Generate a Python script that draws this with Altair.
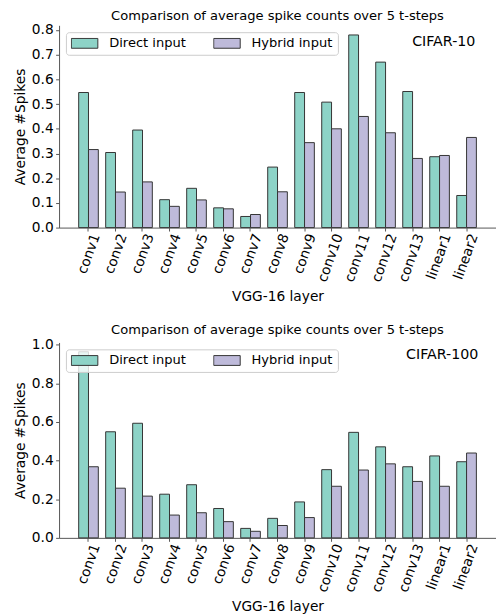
import altair as alt
import pandas as pd

layers = ["conv1", "conv2", "conv3", "conv4", "conv5", "conv6", "conv7", "conv8",
          "conv9", "conv10", "conv11", "conv12", "conv13", "linear1", "linear2"]
series = ["Direct input", "Hybrid input"]

c10_direct = [0.547, 0.304, 0.395, 0.113, 0.159, 0.080, 0.045, 0.245,
              0.547, 0.508, 0.780, 0.670, 0.551, 0.287, 0.130]
c10_hybrid = [0.316, 0.144, 0.185, 0.086, 0.112, 0.076, 0.053, 0.145,
              0.344, 0.400, 0.450, 0.384, 0.280, 0.292, 0.365]

c100_direct = [0.963, 0.549, 0.593, 0.226, 0.275, 0.152, 0.049, 0.101,
               0.186, 0.353, 0.546, 0.471, 0.368, 0.424, 0.394]
c100_hybrid = [0.368, 0.257, 0.216, 0.118, 0.130, 0.084, 0.034, 0.064,
               0.105, 0.267, 0.351, 0.383, 0.292, 0.267, 0.439]

title_text = "Comparison of average spike counts over 5 t-steps"
x_title = "VGG-16 layer"
y_title = "Average #Spikes"
colors = ["#8dd3c7", "#bebada"]

FONT = "DejaVu Sans"


def make_df(direct, hybrid):
    rows = []
    for i, l in enumerate(layers):
        rows.append({"layer": l, "type": series[0], "value": direct[i]})
        rows.append({"layer": l, "type": series[1], "value": hybrid[i]})
    return pd.DataFrame(rows)


def panel(direct, hybrid, ymax, yticks, label, label_x, label_y, height):
    df = make_df(direct, hybrid)
    bars = alt.Chart(df).mark_bar(stroke="#333333", strokeWidth=1).encode(
        x=alt.X("layer:N", sort=layers,
                scale=alt.Scale(paddingInner=0, paddingOuter=0.59),
                axis=alt.Axis(title=x_title, labelAngle=-70, labelAlign="right",
                              labelBaseline="middle", labelOffset=8, labelPadding=3,
                              tickSize=3.5, titlePadding=6)),
        xOffset=alt.XOffset("type:N", sort=series,
                            scale=alt.Scale(paddingInner=0, paddingOuter=0.375)),
        y=alt.Y("value:Q", scale=alt.Scale(domain=[0, ymax], nice=False, zero=True),
                axis=alt.Axis(title=y_title, values=yticks, format=".1f",
                              tickSize=3.5, labelPadding=2.5, titlePadding=4)),
        color=alt.Color("type:N", sort=series,
                        scale=alt.Scale(domain=series, range=colors),
                        legend=alt.Legend(
                            title=None, orient="none", legendX=7, legendY=7,
                            direction="horizontal",
                            symbolType="M-1,-0.37H1V0.37H-1Z", symbolSize=729,
                            symbolStrokeColor="#333333", symbolStrokeWidth=1,
                            symbolOpacity=1,
                            labelFontSize=13.3, labelFont=FONT, labelColor="black",
                            labelOffset=11, columnPadding=27, padding=5,
                            clipHeight=12,
                            fillColor="rgba(255,255,255,0.8)",
                            strokeColor="#cccccc", cornerRadius=3)),
    )
    tdf = pd.DataFrame({"t": [label]})
    txt = alt.Chart(tdf).mark_text(align="right", baseline="middle",
                                   fontSize=14.5, font=FONT, color="black").encode(
        text="t:N", x=alt.value(label_x), y=alt.value(label_y))
    return alt.layer(bars, txt).properties(
        width=445, height=height,
        title=alt.TitleParams(title_text, fontSize=13.3, font=FONT,
                              fontWeight="normal", offset=1, color="black"))


top = panel(c10_direct, c10_hybrid, 0.819,
            [0.0, 0.1, 0.2, 0.3, 0.4, 0.5, 0.6, 0.7, 0.8],
            "CIFAR-10", 424, 16.8, 206)
bottom = panel(c100_direct, c100_hybrid, 1.011,
               [0.0, 0.2, 0.4, 0.6, 0.8, 1.0],
               "CIFAR-100", 427, 13, 199)

chart = alt.vconcat(top, bottom, spacing=19,
                    padding={"left": 5, "top": -5, "right": 0, "bottom": 0}).resolve_scale(
    color="independent", x="independent", y="independent"
).configure_view(stroke=None).configure_axis(
    labelFont=FONT, titleFont=FONT, labelFontSize=14, titleFontSize=14,
    labelColor="black", titleColor="black", titleFontWeight="normal",
    domainColor="#555555", tickColor="#555555", grid=False
)

chart.save("out.html", embed_options={"renderer": "svg", "actions": False})
